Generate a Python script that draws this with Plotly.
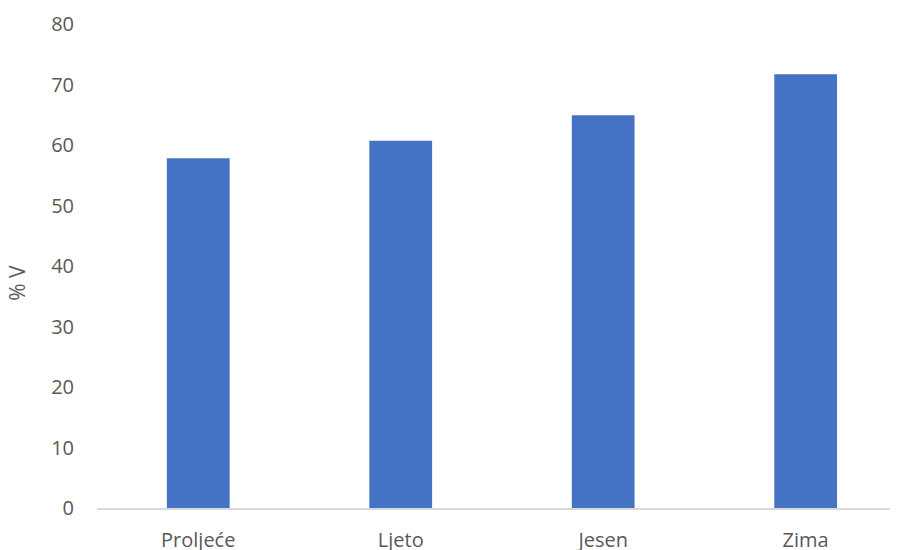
import plotly.graph_objects as go

categories = ["Proljeće", "Ljeto", "Jesen", "Zima"]
values = [57.8, 60.7, 64.9, 71.7]
y_ticks = [0, 10, 20, 30, 40, 50, 60, 70, 80]
y_title = "% V"

font_family = "Open Sans, Noto Sans, sans-serif"
text_color = "#595959"

fig = go.Figure(
    go.Bar(x=categories, y=values, marker=dict(color="#4472C4", line=dict(width=0)))
)

# The page body has an 8px default margin, so the figure is offset by 8px.
fig.update_layout(
    width=890,
    height=542,
    margin=dict(l=89, r=0, t=16, b=42, autoexpand=False),
    plot_bgcolor="white",
    paper_bgcolor="white",
    bargap=0.69,
    showlegend=False,
    font=dict(family=font_family, size=20, color=text_color),
)

fig.update_xaxes(
    range=[-0.5, 3.456],
    automargin=False,
    showline=True,
    linecolor="#D9D9D9",
    linewidth=1.5,
    showgrid=False,
    ticks="",
    ticklabelstandoff=13,
    tickfont=dict(size=20, color=text_color),
)

fig.update_yaxes(
    range=[0, 80],
    automargin=False,
    tickvals=y_ticks,
    showgrid=False,
    zeroline=False,
    showline=False,
    ticks="",
    ticklabelstandoff=22,
    tickfont=dict(size=20, color=text_color),
)

fig.add_annotation(
    text=y_title,
    textangle=-90,
    xref="paper",
    yref="paper",
    x=-0.1,
    y=0.465,
    xanchor="center",
    yanchor="middle",
    showarrow=False,
    font=dict(size=21, color=text_color),
)

fig.write_html("out.html")
